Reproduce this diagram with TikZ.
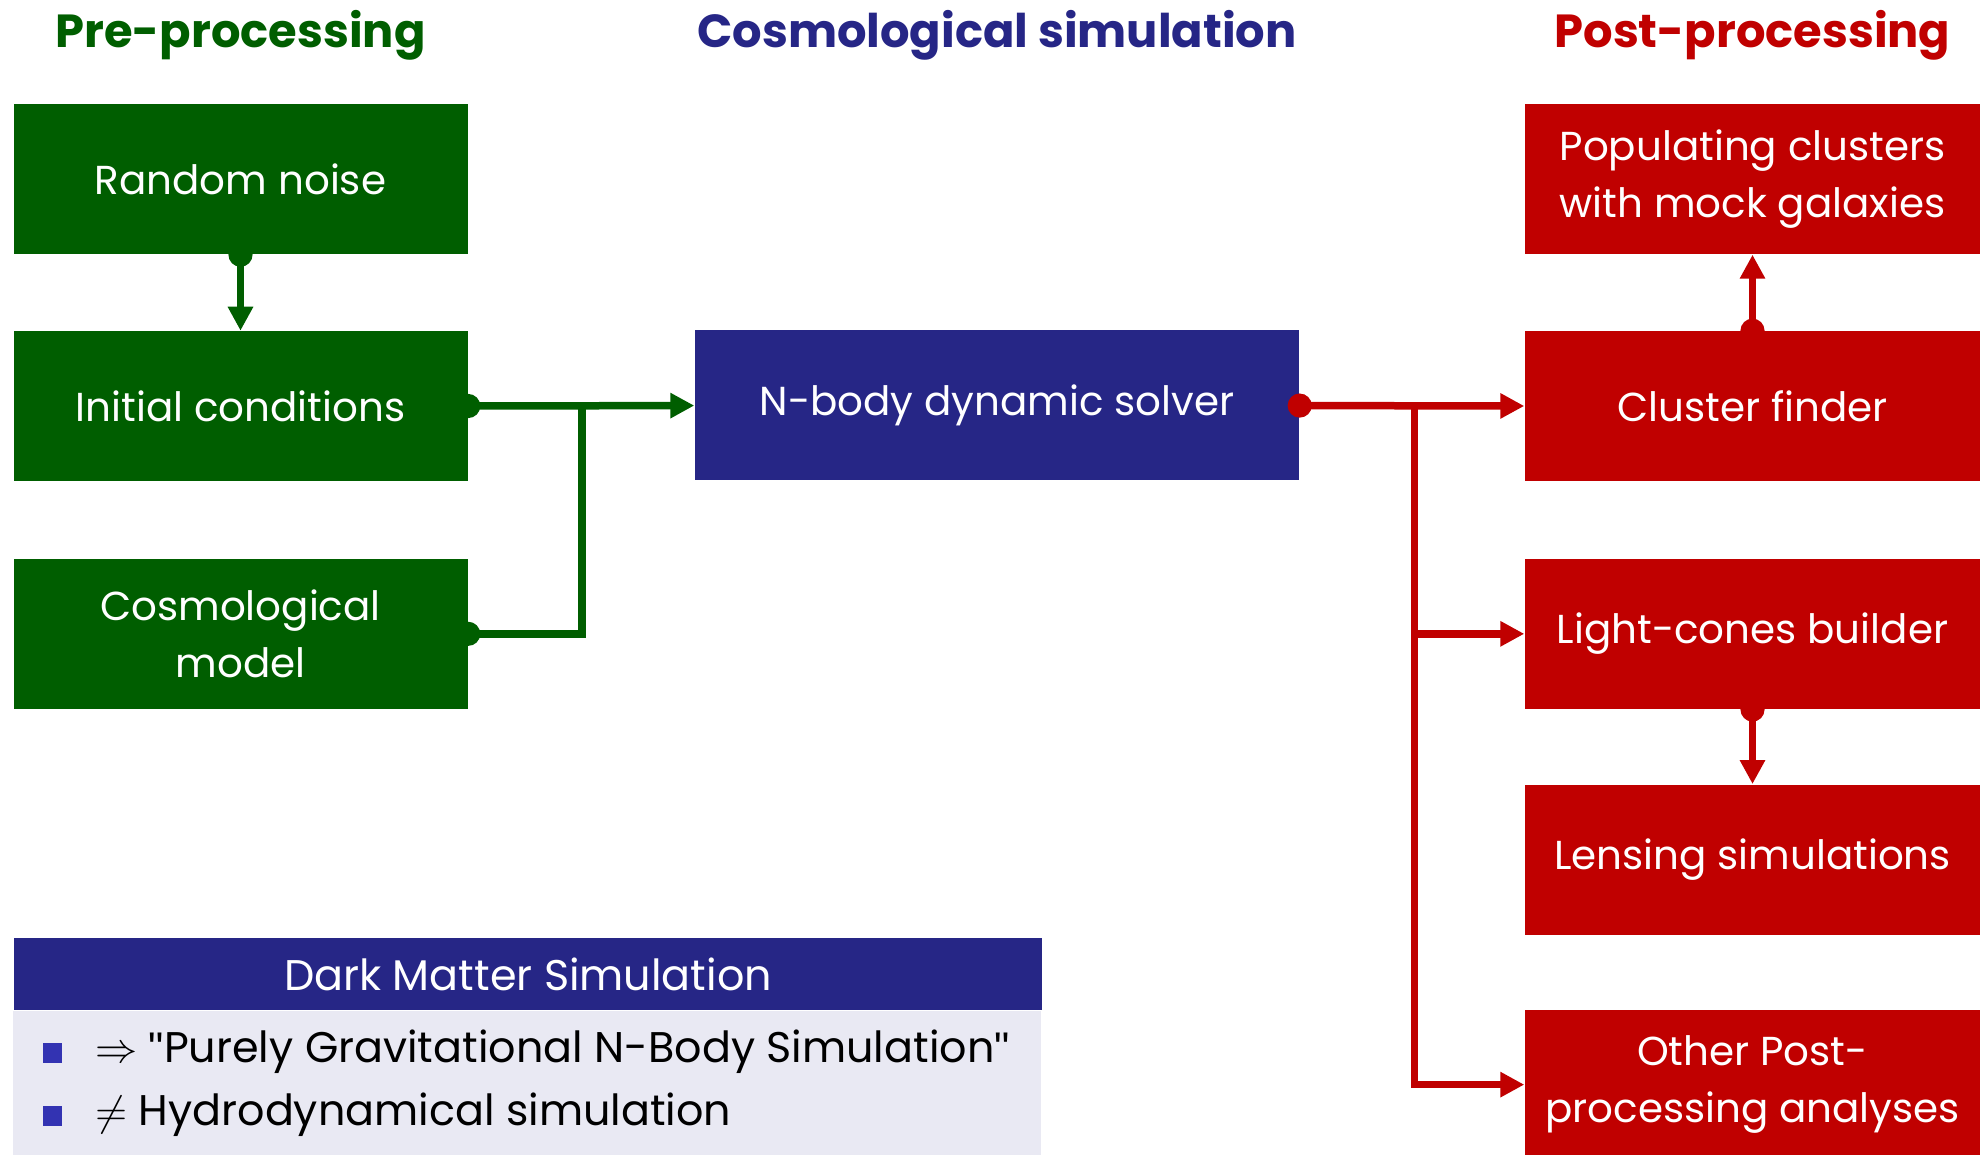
\documentclass[tikz,border=0pt]{standalone}
\usepackage{amsmath,amssymb}
\usepackage{fontspec}
\setmainfont{Poppins}
\newfontfamily\quotefont{Liberation Sans}
\usepackage{tikz}
\usetikzlibrary{arrows.meta,calc,positioning}
%
\definecolor{preGreen}{RGB}{0,94,0}
\definecolor{simBlue}{RGB}{38,38,134}
\definecolor{postRed}{RGB}{192,0,0}
\definecolor{blockBody}{RGB}{233,233,243}
\definecolor{itemBlue}{RGB}{51,51,178}
%
\newcommand{\boxfont}{\fontsize{11.5}{16.2}\selectfont}
\newcommand{\itemfont}{\fontsize{12.2}{15}\selectfont}
\newcommand{\headfont}{\fontsize{13.2}{16}\selectfont\bfseries}
\newcommand{\itemsq}{\textcolor{itemBlue}{\rule{0.19cm}{0.2cm}}}
\newcommand{\dq}{{\quotefont"}}
%
\tikzset{
  stage/.style={minimum width=4.54cm,minimum height=1.5cm,inner sep=0pt,
                align=center,text=white,font=\boxfont},
  prebox/.style={stage,fill=preGreen},
  simbox/.style={stage,fill=simBlue,minimum width=6.04cm},
  postbox/.style={stage,fill=postRed,minimum width=4.55cm},
  head/.style={font=\headfont,inner sep=0pt},
  item/.style={anchor=west,font=\itemfont,inner sep=0pt},
  conn/.style={line width=0.075cm,shorten <=-0.12cm,
               {Circle[length=0.24cm]}-{Triangle[length=0.24cm,width=0.24cm]}},
  feed/.style={line width=0.075cm,shorten <=-0.12cm,{Circle[length=0.24cm]}-},
  branch/.style={line width=0.075cm,-{Triangle[length=0.24cm,width=0.24cm]}},
}

\begin{document}
\begin{tikzpicture}
%
  \useasboundingbox (0,0) rectangle (19.8,-11.54) ;
%
  \node (prehead) [head,text=preGreen] at (2.405,-0.35) {Pre-processing} ;
  \node (simhead) [head,text=simBlue] at (9.97,-0.35) {Cosmological simulation} ;
  \node (posthead) [head,text=postRed] at (17.525,-0.35) {Post-processing} ;
%
  \node (noise) [prebox] at (2.405,-1.79) {Random noise} ;
  \node (init) [prebox,below=0.76cm of noise] {Initial conditions} ;
  \node (model) [prebox,below=0.76cm of init] {Cosmological\\model} ;
%
  \node (solver) [simbox] at (9.97,-4.05) {N-body dynamic solver} ;
%
  \node (mock) [postbox] at (17.525,-1.79) {Populating clusters\\with mock galaxies} ;
  \node (finder) [postbox,below=0.76cm of mock] {Cluster finder} ;
  \node (cones) [postbox,below=0.76cm of finder] {Light-cones builder} ;
  \node (lensing) [postbox,below=0.745cm of cones] {Lensing simulations} ;
  \node (other) [postbox,below=0.735cm of lensing] {Other Post-\\processing analyses} ;
%
  \node (dmhead) [fill=simBlue,text=white,font=\itemfont,minimum width=10.28cm,
                  minimum height=0.72cm,inner sep=0pt] at (5.28,-9.74) {Dark Matter Simulation} ;
  \fill [blockBody] (dmhead.south west) rectangle ++(10.28,-1.44) ;
  \node (item1) [item] at (0.425,-10.52)
        {\itemsq\hspace{0.33cm}$\Rightarrow$ \dq Purely Gravitational N-Body Simulation\dq} ;
  \node (item2) [item] at (0.425,-11.15)
        {\itemsq\hspace{0.33cm}$\neq$ Hydrodynamical simulation} ;
%
  \coordinate (gjoin) at ($(init.east)+(1.14,0)$) ;
  \coordinate (rjoin) at ($(solver.east)+(1.15,0)$) ;
%
  \draw [conn,preGreen] (noise) -- (init) ;
  \draw [conn,preGreen] (init) -- (solver) ;
  \draw [feed,preGreen] (model.east) -| (gjoin) ;
%
  \draw [conn,postRed] (solver) -- (finder) ;
  \draw [branch,postRed] (rjoin) |- (cones.west) ;
  \draw [branch,postRed] (rjoin) |- (other.west) ;
  \draw [conn,postRed] (finder) -- (mock) ;
  \draw [conn,postRed] (cones) -- (lensing) ;
%
\end{tikzpicture}
\end{document}
